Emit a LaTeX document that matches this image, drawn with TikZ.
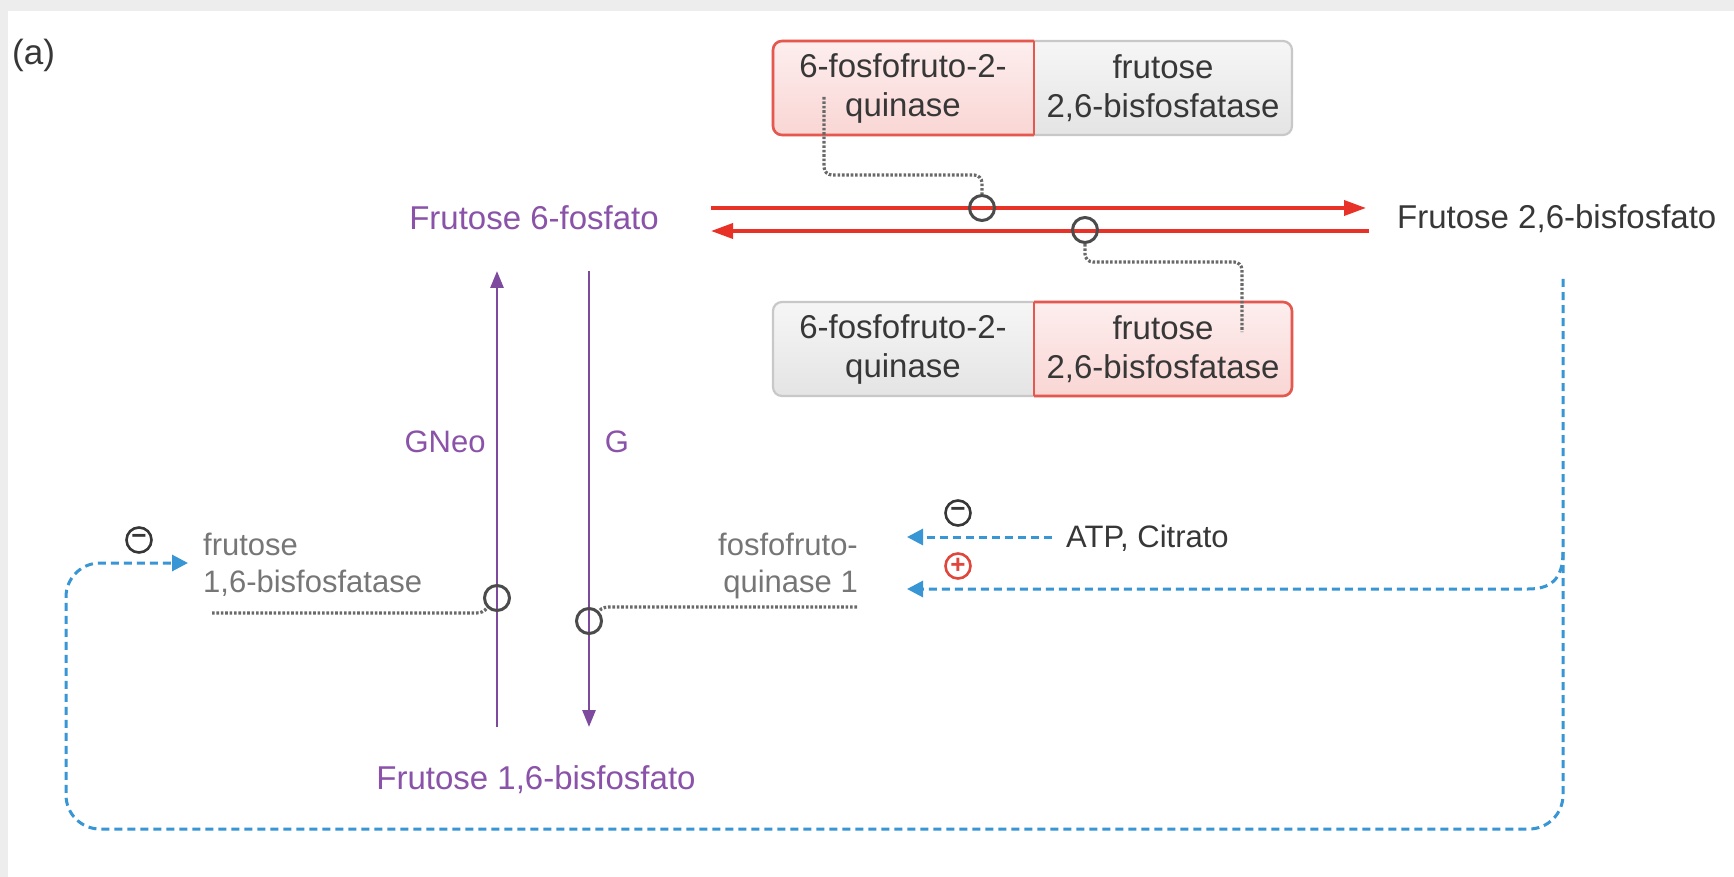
\documentclass[tikz,border=0pt]{standalone}
\usepackage{fontspec}
\setmainfont{Liberation Sans}
\usetikzlibrary{arrows.meta}
\definecolor{pur}{RGB}{125,74,158}
\definecolor{purtxt}{RGB}{138,82,168}
\definecolor{redl}{RGB}{232,50,40}
\definecolor{redbd}{RGB}{230,88,78}
\definecolor{pinkA}{RGB}{253,238,238}
\definecolor{pinkB}{RGB}{249,214,212}
\definecolor{greyA}{RGB}{246,246,246}
\definecolor{greyB}{RGB}{228,228,228}
\definecolor{greybd}{RGB}{200,200,200}
\definecolor{bl}{RGB}{56,150,212}
\definecolor{dk}{RGB}{55,55,55}
\definecolor{lg}{RGB}{118,118,118}
\definecolor{dotc}{RGB}{105,105,105}
\definecolor{signred}{RGB}{225,70,60}
\begin{document}
\begin{tikzpicture}[x=1pt,y=-1pt,
  big/.style={font=\fontsize{33}{39}\selectfont, inner sep=0pt},
  lab/.style={font=\fontsize{31}{37}\selectfont, inner sep=0pt, text=lg},
  boxtxt/.style={big, text=dk, align=center},
  ring/.style={circle, draw=dk!90, line width=3pt, minimum size=25pt, inner sep=0pt},
  sign/.style={circle, draw=#1, text=#1, line width=2.6pt, minimum size=25pt, inner sep=0pt, font=\fontsize{26}{26}\selectfont\bfseries},
  redarr/.style={draw=redl, line width=3.6pt, -{Triangle[length=22pt,width=15pt]}},
  purarr/.style={draw=pur, line width=2.8pt, -{Triangle[length=17pt,width=13pt]}},
  bluedash/.style={draw=bl, line width=3pt, dash pattern=on 8pt off 5pt, -{Triangle[length=16pt,width=16pt]}},
  dotline/.style={draw=dotc, line width=3.2pt, dash pattern=on 2.6pt off 1.8pt},
  redbox/.style={draw=redbd, line width=2.6pt},
  greybox/.style={draw=greybd, line width=2.2pt},
]
\useasboundingbox (0,0) rectangle (1734,877);
\fill[black!7] (0,0) rectangle (1734,877);
\fill[white] (8,11) rectangle (1734,877);

% ---- top enzyme box (kinase active) ----
\begin{scope}
\clip[rounded corners=9pt] (773,41) rectangle (1292,135);
\shade[top color=pinkA,bottom color=pinkB] (773,41) rectangle (1034,135);
\shade[top color=greyA,bottom color=greyB] (1034,41) rectangle (1292,135);
\end{scope}
\draw[greybox, rounded corners=9pt] (773,41) rectangle (1292,135);
\draw[redbox, rounded corners=9pt] (1034,41) -- (773,41) -- (773,135) -- (1034,135);
\draw[redbox] (1034,41) -- (1034,135);

% ---- bottom enzyme box (phosphatase active) ----
\begin{scope}
\clip[rounded corners=9pt] (773,302) rectangle (1292,396);
\shade[top color=greyA,bottom color=greyB] (773,302) rectangle (1034,396);
\shade[top color=pinkA,bottom color=pinkB] (1034,302) rectangle (1292,396);
\end{scope}
\draw[greybox, rounded corners=9pt] (773,302) rectangle (1292,396);
\draw[redbox, rounded corners=9pt] (1034,302) -- (1292,302) -- (1292,396) -- (1034,396);
\draw[redbox] (1034,302) -- (1034,396);

\node[boxtxt] (kin1) at (903,88) {6-fosfofruto-2-\\quinase};
\node[boxtxt] (fbp1) at (1163,88) {frutose\\2,6-bisfosfatase};
\node[boxtxt] (kin2) at (903,349) {6-fosfofruto-2-\\quinase};
\node[boxtxt] (fbp2) at (1163,349) {frutose\\2,6-bisfosfatase};

% ---- metabolites ----
\node[font=\fontsize{35}{40}\selectfont, inner sep=0pt, text=dk, anchor=base west] (lbl) at (12,65) {(a)};
\node[big, text=purtxt, anchor=base] (f6p) at (534,230) {Frutose 6-fosfato};
\node[big, text=dk, anchor=base west] (f26) at (1397,229) {Frutose 2,6-bisfosfato};
\node[big, text=purtxt, anchor=base] (f16) at (536,789) {Frutose 1,6-bisfosfato};
\node[lab, text=purtxt, anchor=base] (gneo) at (445,452) {GNeo};
\node[lab, text=purtxt, anchor=base] (g) at (617,452) {G};

% ---- red reactions ----
\coordinate (r1s) at (711,208);
\coordinate (r1e) at (1366,208);
\coordinate (r2s) at (1369,231);
\coordinate (r2e) at (711,231);
\draw[redarr] (r1s) -- (r1e);
\draw[redarr] (r2s) -- (r2e);
\node[ring] (c1) at (982,208) {};
\node[ring] (c2) at (1085,230) {};
\coordinate (k1p) at (824,97);
\coordinate (f2p) at (1242,332);
\draw[dotline, rounded corners=8pt] (k1p) -- (824,175) -- (982,175) -- (c1.north);
\draw[dotline, rounded corners=8pt] (c2.south) -- (1085,262) -- (1242,262) -- (f2p);

% ---- purple pathway ----
\coordinate (gu1) at (497,727);
\coordinate (gu2) at (497,271);
\coordinate (gd1) at (589,271);
\coordinate (gd2) at (589,727);
\draw[purarr] (gu1) -- (gu2);
\draw[purarr] (gd1) -- (gd2);
\node[ring] (c3) at (497,598) {};
\node[ring] (c4) at (589,621) {};

% ---- enzyme labels ----
\node[lab, align=left, anchor=base west] (fbp16) at (203,592) {frutose\\1,6-bisfosfatase};
\node[lab, align=right, anchor=base east] (pfk1) at (858,592) {fosfofruto-\\quinase 1};
\node[lab, text=dk, anchor=base west] (atp) at (1066,547) {ATP, Citrato};
\draw[dotline] (212,613) -- (476,613) to[out=0,in=230] (c3.south west);
\draw[dotline] (857,607) -- (612,607) to[out=180,in=50] (c4.north east);

% ---- regulation (blue) ----
\coordinate (pfkin1) at (907,537);
\coordinate (pfkin2) at (907,589);
\coordinate (fbpin) at (188,563);
\coordinate (vtop) at (1563,279);
\coordinate (atpout) at (1052,537);
\draw[bluedash] (atpout) -- (pfkin1);
\draw[bluedash, rounded corners=34pt] (vtop) -- (1563,829) -- (66,829) -- (66,563) -- (fbpin);
\draw[bluedash] (1563,552) .. controls (1563,580) and (1550,589) .. (1528,589) -- (pfkin2);
\node[sign=dk] (m1) at (958,513) {\raisebox{1pt}{−}};
\node[sign=signred] (p1) at (958,566) {+};
\node[sign=dk] (m2) at (139,540) {\raisebox{1pt}{−}};
\end{tikzpicture}
\end{document}
